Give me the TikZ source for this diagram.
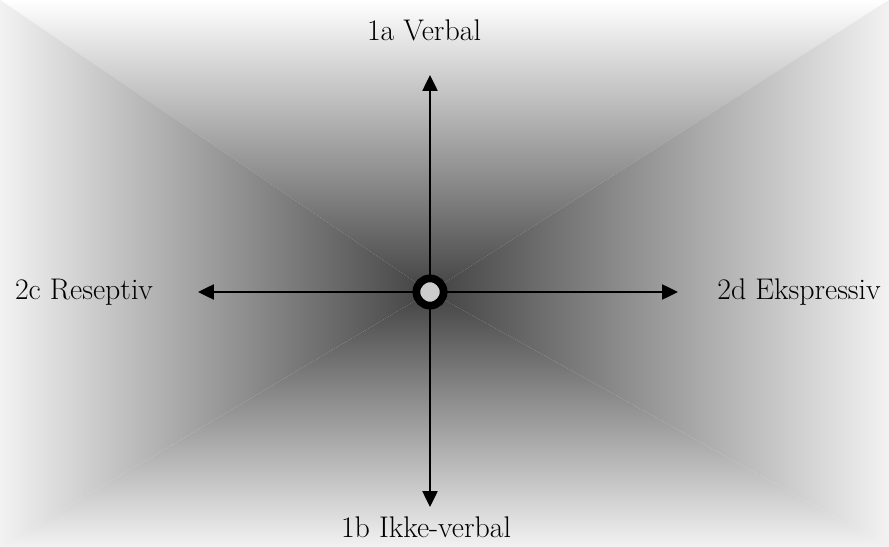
\documentclass[tikz,border=0pt]{standalone}
\usepackage{tikz}
\usetikzlibrary{arrows.meta,positioning,calc}

\tikzset{
  axis/.style={-{Triangle[length=9pt,width=8.5pt]}, line width=1.2pt, black},
  pole/.style={font=\fontsize{17}{20}\selectfont, inner sep=0pt},
  hubring/.style={circle, draw=black, line width=4.4pt, fill=gray!40, minimum size=15.5pt, inner sep=0pt}
}

\begin{document}
\begin{tikzpicture}[x=0.02cm, y=-0.02cm]
    \useasboundingbox (0,0) rectangle (889,547);

    % Background (rectangular gradient, four triangles)
    \shade[top color=white, bottom color=black!74] (0,0) -- (889,0) -- (430,292) -- cycle;
    \shade[top color=black!74, bottom color=gray!10] (0,547) -- (889,547) -- (430,292) -- cycle;
    \shade[left color=gray!10, right color=black!74] (0,0) -- (0,547) -- (430,292) -- cycle;
    \shade[left color=black!74, right color=gray!10] (889,0) -- (889,547) -- (430,292) -- cycle;

    % Centre
    \node[hubring] (hub) at (430,292) {};

    % Arrow ends
    \coordinate (tipup) at (430,75);
    \coordinate (tipdown) at (430,507);
    \coordinate (tipleft) at (198,292);
    \coordinate (tipright) at (678,292);

    % Arrows
    \draw[axis] (hub.north) -- (tipup);
    \draw[axis] (hub.south) -- (tipdown);
    \draw[axis] (hub.west) -- (tipleft);
    \draw[axis] (hub.east) -- (tipright);

    % Labels
    \node[pole] (verbal) at (424,30) {1a Verbal};
    \node[pole] (ikkeverbal) at (426,527) {1b Ikke-verbal};
    \node[pole] (reseptiv) at (84,292) {2c Reseptiv};
    \node[pole] (ekspressiv) at (799,292) {2d Ekspressiv};
\end{tikzpicture}
\end{document}
